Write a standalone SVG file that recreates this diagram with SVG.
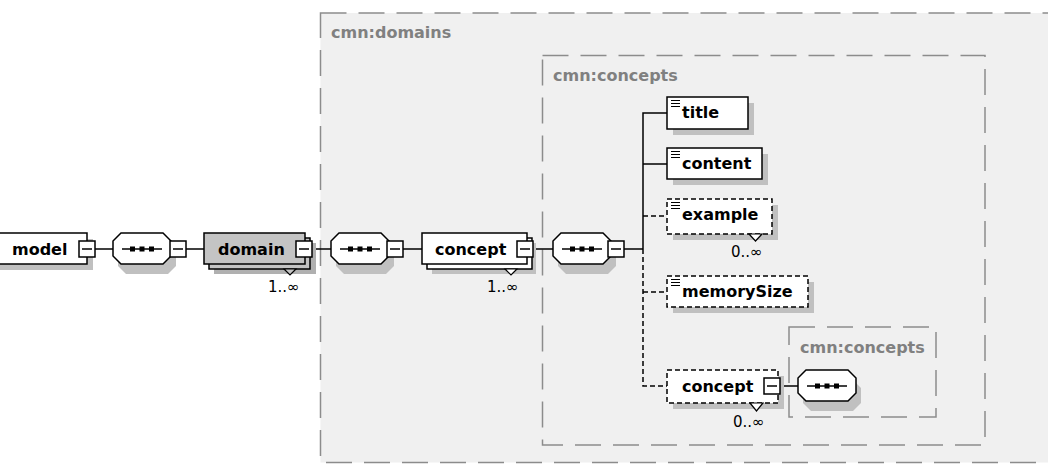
<svg xmlns="http://www.w3.org/2000/svg" xmlns:xlink="http://www.w3.org/1999/xlink" width="1048" height="464" viewBox="0 0 1048 464">
<style>
.grp{fill:none;stroke:#8c8c8c;stroke-width:1.5;stroke-dasharray:26 12}
.glabel{font-family:"DejaVu Sans",sans-serif;font-weight:bold;font-size:16px;fill:#808080}
.box{fill:#fff;stroke:#000;stroke-width:1.5}
.gbox{fill:#c4c4c4;stroke:#000;stroke-width:1.5}
.dbox{fill:#fff;stroke:#000;stroke-width:1.5;stroke-dasharray:5 3}
.shadow{fill:#c0c0c0}
.name{font-family:"DejaVu Sans",sans-serif;font-weight:bold;font-size:16px;fill:#000}
.mult{font-family:"DejaVu Sans",sans-serif;font-size:15px;fill:#000}
.conn{stroke:#000;stroke-width:1.5;fill:none}
.dash{stroke-dasharray:5 3}
.tri{fill:#fff;stroke:#000;stroke-width:1.2}
.ico{stroke:#000;stroke-width:1}
</style>
<defs>
<g id="minus"><rect x="0" y="0" width="16" height="16" fill="#fff" stroke="#000" stroke-width="1.5"/><line x1="3" y1="8" x2="13" y2="8" stroke="#000" stroke-width="1.5"/></g>
<g id="seq">
<path d="M8,5 H50 L58,13 V28 L50,36 H8 L0,28 V13 Z" class="shadow" transform="translate(5,5)"/>
<path d="M8,0 H50 L58,8 V23 L50,31 H8 L0,23 V8 Z" class="box"/>
<line x1="9" y1="16" x2="49" y2="16" class="conn"/>
<rect x="17" y="13.5" width="5" height="5"/><rect x="26.5" y="13.5" width="5" height="5"/><rect x="36" y="13.5" width="5" height="5"/>
</g>
<g id="icon"><line x1="0" y1="0.5" x2="9" y2="0.5" class="ico"/><line x1="0" y1="3.5" x2="9" y2="3.5" class="ico"/><line x1="0" y1="6.5" x2="9" y2="6.5" class="ico"/></g>
</defs>
<rect x="0" y="0" width="1048" height="464" fill="#fff"/>
<g id="cmn-domains">
<rect x="320.5" y="13" width="760" height="449.5" fill="#f0f0f0"/>
<rect x="320.5" y="13" width="760" height="449.5" class="grp"/>
<text x="331" y="38" class="glabel">cmn:domains</text>
</g>
<g id="cmn-concepts">
<rect x="542.5" y="55.5" width="442.5" height="389.5" class="grp"/>
<text x="553" y="81" class="glabel">cmn:concepts</text>
</g>
<g id="cmn-concepts-nested">
<rect x="789" y="327" width="147" height="90" class="grp"/>
<text x="800" y="353" class="glabel">cmn:concepts</text>
</g>
<g id="connectors">
<line x1="95" y1="249" x2="113" y2="249" class="conn"/>
<line x1="186" y1="249" x2="204" y2="249" class="conn"/>
<line x1="312" y1="249" x2="331" y2="249" class="conn"/>
<line x1="403" y1="249" x2="422" y2="249" class="conn"/>
<line x1="533" y1="249" x2="553" y2="249" class="conn"/>
<line x1="624" y1="249" x2="643" y2="249" class="conn"/>
<polyline points="667,113 643,113 643,249" class="conn"/>
<line x1="643" y1="164" x2="667" y2="164" class="conn"/>
<polyline points="643,249 643,386 667,386" class="conn dash"/>
<line x1="643" y1="216" x2="667" y2="216" class="conn dash"/>
<line x1="643" y1="292" x2="667" y2="292" class="conn dash"/>
<line x1="780" y1="386" x2="798" y2="386" class="conn"/>
</g>
<g id="model">
<rect x="-60" y="239" width="153" height="31" class="shadow"/>
<rect x="-60" y="233" width="147" height="31" class="box"/>
<text x="12" y="255" class="name">model</text>
<use xlink:href="#minus" x="79" y="241"/>
</g>
<g id="seq1"><use xlink:href="#seq" x="113" y="233"/><use xlink:href="#minus" x="170" y="241"/></g>
<g id="domain">
<rect x="214" y="243" width="102" height="31" fill="#b0b0b0"/>
<rect x="209" y="238" width="101" height="31" class="gbox"/>
<rect x="204" y="233" width="101" height="31" class="gbox"/>
<text x="218" y="255" class="name">domain</text>
<use xlink:href="#minus" x="296" y="241"/>
<polygon points="284,269 290,275 296,269" class="tri" style="fill:#c4c4c4"/>
<text x="268" y="292" class="mult">1..∞</text>
</g>
<g id="seq2"><use xlink:href="#seq" x="331" y="233"/><use xlink:href="#minus" x="387" y="241"/></g>
<g id="concept">
<rect x="432" y="243" width="104" height="31" class="shadow"/>
<rect x="427" y="238" width="105" height="31" class="box"/>
<rect x="422" y="233" width="105" height="31" class="box"/>
<text x="435" y="255" class="name">concept</text>
<use xlink:href="#minus" x="517" y="241"/>
<polygon points="505,269 511,275 517,269" class="tri"/>
<text x="487" y="292" class="mult">1..∞</text>
</g>
<g id="seq3"><use xlink:href="#seq" x="553" y="233"/><use xlink:href="#minus" x="608" y="241"/></g>
<g id="title">
<rect x="673" y="103" width="81" height="32" class="shadow"/>
<rect x="667" y="97" width="81" height="32" class="box"/>
<use xlink:href="#icon" x="671" y="100"/>
<text x="682" y="118" class="name">title</text>
</g>
<g id="content">
<rect x="673" y="154" width="95" height="31" class="shadow"/>
<rect x="667" y="148" width="95" height="31" class="box"/>
<use xlink:href="#icon" x="671" y="151"/>
<text x="682" y="169" class="name">content</text>
</g>
<g id="example">
<rect x="673" y="205" width="105" height="35" class="shadow"/>
<rect x="667" y="199" width="105" height="35" class="dbox"/>
<use xlink:href="#icon" x="671" y="202"/>
<text x="682" y="220" class="name">example</text>
<polygon points="749,234 755.5,241 762,234" class="tri"/>
<text x="731" y="257" class="mult">0..∞</text>
</g>
<g id="memorySize">
<rect x="673" y="282" width="141" height="31" class="shadow"/>
<rect x="667" y="276" width="141" height="31" class="dbox"/>
<use xlink:href="#icon" x="671" y="279"/>
<text x="682" y="297" class="name">memorySize</text>
</g>
<g id="concept-ref">
<rect x="673" y="376" width="111" height="33" class="shadow"/>
<rect x="667" y="370" width="111" height="33" class="dbox"/>
<text x="682" y="392" class="name">concept</text>
<use xlink:href="#minus" x="764" y="378"/>
<polygon points="750,403 756.5,411 763,403" class="tri"/>
<text x="733" y="427" class="mult">0..∞</text>
</g>
<g id="seq4"><use xlink:href="#seq" x="798" y="370"/></g>
</svg>
